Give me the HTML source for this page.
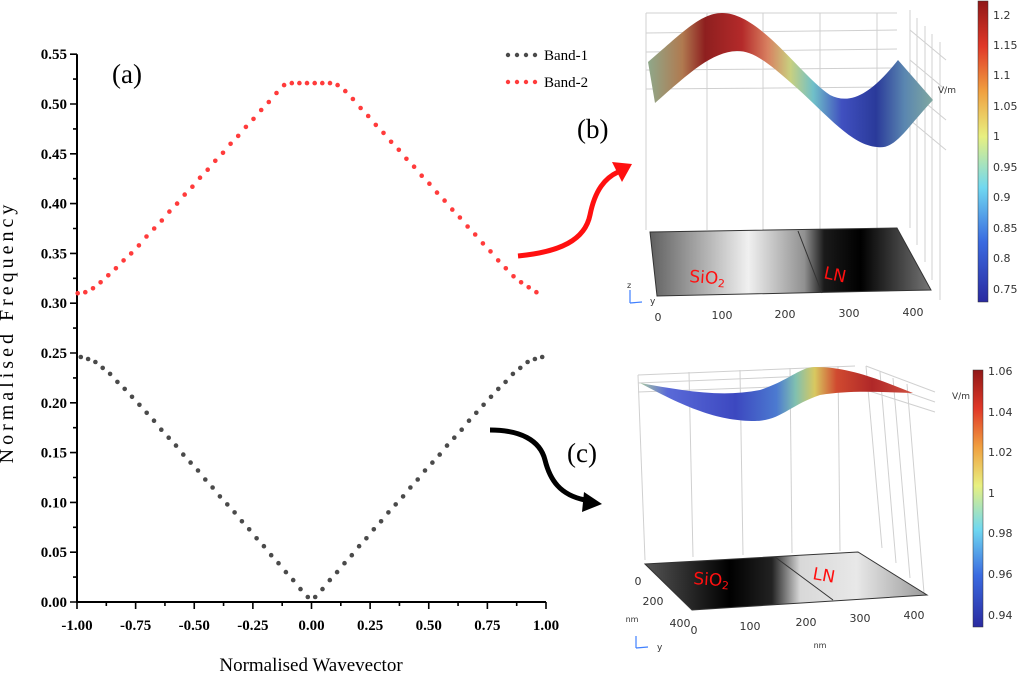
<!DOCTYPE html>
<html><head><meta charset="utf-8"><style>
html,body{margin:0;padding:0;background:#fff;}
svg{display:block;}
.tk{font-family:"Liberation Serif",serif;font-weight:bold;font-size:15px;}
</style></head><body>
<svg id="fig" width="1024" height="684" viewBox="0 0 1024 684" xmlns="http://www.w3.org/2000/svg">
<defs>
<linearGradient id="gb" x1="648" y1="0" x2="933" y2="0" gradientUnits="userSpaceOnUse">
<stop offset="0" stop-color="#8fa88a"/><stop offset="0.12" stop-color="#b07a50"/><stop offset="0.2" stop-color="#8e1f1f"/><stop offset="0.33" stop-color="#b42a2a"/><stop offset="0.42" stop-color="#d88060"/><stop offset="0.5" stop-color="#c8d080"/><stop offset="0.58" stop-color="#70c0c8"/><stop offset="0.68" stop-color="#4050c0"/><stop offset="0.8" stop-color="#2a3a9a"/><stop offset="0.9" stop-color="#5a86b0"/><stop offset="1" stop-color="#80a8a0"/>
</linearGradient>
<linearGradient id="gc" x1="640" y1="0" x2="913" y2="0" gradientUnits="userSpaceOnUse">
<stop offset="0" stop-color="#a8c8a0"/><stop offset="0.1" stop-color="#5a6ad8"/><stop offset="0.35" stop-color="#3c48c0"/><stop offset="0.5" stop-color="#4c7ad0"/><stop offset="0.57" stop-color="#80c0b0"/><stop offset="0.64" stop-color="#d8c860"/><stop offset="0.72" stop-color="#d04a30"/><stop offset="0.85" stop-color="#b02828"/><stop offset="1" stop-color="#d05040"/>
</linearGradient>
<linearGradient id="cbb" x1="0" y1="1" x2="0" y2="0">
<stop offset="0" stop-color="#2a2aa0"/><stop offset="0.2" stop-color="#3a6ae0"/><stop offset="0.38" stop-color="#70d8f0"/><stop offset="0.55" stop-color="#e8f080"/><stop offset="0.7" stop-color="#f0a040"/><stop offset="0.85" stop-color="#e03828"/><stop offset="1" stop-color="#901818"/>
</linearGradient>
<linearGradient id="flb" x1="650" y1="0" x2="931" y2="0" gradientUnits="userSpaceOnUse">
<stop offset="0" stop-color="#606060"/><stop offset="0.35" stop-color="#f0f0f0"/><stop offset="0.55" stop-color="#909090"/><stop offset="0.62" stop-color="#1a1a1a"/><stop offset="0.75" stop-color="#000"/><stop offset="1" stop-color="#777"/>
</linearGradient>
<linearGradient id="flc" x1="645" y1="0" x2="927" y2="0" gradientUnits="userSpaceOnUse">
<stop offset="0" stop-color="#555"/><stop offset="0.3" stop-color="#000"/><stop offset="0.45" stop-color="#222"/><stop offset="0.55" stop-color="#d8d8d8"/><stop offset="0.75" stop-color="#e8e8e8"/><stop offset="1" stop-color="#999"/>
</linearGradient>
</defs>

<!-- chart (a) -->
<g id="chart"></g>
<text x="13" y="332" transform="rotate(-90 13 332)" text-anchor="middle" font-family="Liberation Serif,serif" font-size="20" letter-spacing="4">Normalised Frequency</text>
<text x="311" y="671" text-anchor="middle" font-family="Liberation Serif,serif" font-size="19">Normalised Wavevector</text>
<text x="112" y="83" font-family="Liberation Serif,serif" font-size="27">(a)</text>
<g>
<g>
<circle cx="508" cy="55" r="2.2" fill="#4a4a4a"/><circle cx="517" cy="55" r="2.2" fill="#4a4a4a"/><circle cx="526" cy="55" r="2.2" fill="#4a4a4a"/><circle cx="535" cy="55" r="2.2" fill="#4a4a4a"/>
<text x="544" y="60" font-family="Liberation Serif,serif" font-size="15">Band-1</text></g>
<g>
<circle cx="508" cy="82" r="2.2" fill="#ff3b3b"/><circle cx="517" cy="82" r="2.2" fill="#ff3b3b"/><circle cx="526" cy="82" r="2.2" fill="#ff3b3b"/><circle cx="535" cy="82" r="2.2" fill="#ff3b3b"/>
<text x="544" y="87" font-family="Liberation Serif,serif" font-size="15">Band-2</text></g>
</g>

<!-- arrows -->
<g>
<path d="M518,256 C560,252 585,240 590,215 C595,190 605,178 618,172" fill="none" stroke="#ff1010" stroke-width="5"/>
<polygon points="632,164 612,162 622,182" fill="#ff1010"/>
</g>
<g>
<path d="M490,430 C520,430 540,440 545,460 C550,480 560,495 585,500" fill="none" stroke="#000" stroke-width="5"/>
<polygon points="602,504 584,492 582,512" fill="#000"/>
</g>
<text x="577" y="138" font-family="Liberation Serif,serif" font-size="27">(b)</text>
<text x="567" y="462" font-family="Liberation Serif,serif" font-size="27">(c)</text>

<!-- panel b -->
<g font-family="DejaVu Sans,sans-serif">
<g stroke="#d0d0d0" stroke-width="1" fill="none">
<path d="M646,13 L646,230 M707,13 L707,230 M763,13 L763,230 M820,13 L820,230 M877,13 L877,230"/>
<path d="M646,13 L897,13 M646,33 L897,30 M646,52 L897,49 M646,70 L897,68 M646,89 L897,87"/>
<path d="M910,10 L910,228 M917,18 L917,245 M925,26 L925,262 M932,34 L932,280 M940,42 L940,300"/>
<path d="M910,30 L946,60 M910,60 L946,90 M910,90 L946,120 M910,120 L946,150"/>
</g>
<path d="M648,62 C680,35 700,13 722,13 C760,13 800,75 830,95 C850,105 870,95 898,60 L933,100 C905,130 895,150 877,147 C850,145 825,112 790,82 C765,60 752,51 737,51 C712,52 690,72 655,103 Z" fill="url(#gb)"/>
<path d="M650,232 L897,228 L931,290 L657,296 Z" fill="url(#flb)" stroke="#333" stroke-width="1"/>
<path d="M798,231 L822,293" stroke="#333" stroke-width="1"/>
<text x="689" y="282" fill="#ff1010" font-size="17" transform="rotate(4 689 282)">SiO<tspan font-size="11" dy="3">2</tspan></text>
<text x="823" y="278" fill="#ff1010" font-size="17" transform="rotate(12 823 278)">LN</text>
<g font-size="11" fill="#333" text-anchor="middle">
<text x="658" y="321">0</text><text x="722" y="319">100</text><text x="785" y="318">200</text><text x="849" y="317">300</text><text x="913" y="316">400</text>
<text x="938" y="93" font-size="9" text-anchor="start">V/m</text>
</g>
<path d="M630,303 L630,290 M630,303 L642,302" stroke="#4080ff" stroke-width="1.2"/>
<text x="627" y="288" font-size="8" fill="#333">z</text><text x="650" y="304" font-size="9" fill="#333">y</text>
<rect x="978" y="1" width="10" height="301" fill="url(#cbb)" stroke="#333" stroke-width="0.5"/>
<g font-size="11" fill="#333">
<text x="993" y="19">1.2</text><text x="993" y="49">1.15</text><text x="993" y="79">1.1</text><text x="993" y="110">1.05</text><text x="993" y="140">1</text><text x="993" y="171">0.95</text><text x="993" y="201">0.9</text><text x="993" y="232">0.85</text><text x="993" y="262">0.8</text><text x="993" y="293">0.75</text>
</g>
</g>

<!-- panel c -->
<g font-family="DejaVu Sans,sans-serif">
<g stroke="#d0d0d0" stroke-width="1" fill="none">
<path d="M638,375 L645,560 M689,372 L693,557 M740,370 L743,555 M790,368 L792,553 M838,366 L840,551"/>
<path d="M638,375 L855,366 M638,383 L855,374 M638,392 L855,384"/>
<path d="M866,366 L882,548 M880,372 L896,563 M893,378 L910,578 M907,384 L924,593 M866,366 L935,392 M866,378 L935,402 M866,390 L935,412"/>
</g>
<path d="M640,383 C680,390 720,398 760,390 C790,380 800,367 815,367 C850,367 880,380 913,393 C880,392 850,390 820,395 C790,405 780,421 755,421 C720,421 690,410 640,383 Z" fill="url(#gc)"/>
<path d="M645,564 L858,552 L927,595 L692,610 Z" fill="url(#flc)" stroke="#333" stroke-width="1"/>
<path d="M775,557 L833,600" stroke="#333" stroke-width="1"/>
<text x="693" y="584" fill="#ff1010" font-size="17" transform="rotate(4 693 584)">SiO<tspan font-size="11" dy="3">2</tspan></text>
<text x="812" y="579" fill="#ff1010" font-size="17" transform="rotate(10 812 579)">LN</text>
<g font-size="11" fill="#333" text-anchor="middle">
<text x="694" y="634">0</text><text x="750" y="630">100</text><text x="806" y="626">200</text><text x="860" y="622">300</text><text x="914" y="619">400</text>
<text x="820" y="648" font-size="8">nm</text>
<text x="638" y="585">0</text><text x="653" y="605">200</text><text x="680" y="627">400</text>
<text x="632" y="622" font-size="8">nm</text>
<text x="952" y="399" font-size="9" text-anchor="start">V/m</text>
</g>
<path d="M636,648 L636,636 M636,648 L648,647" stroke="#4080ff" stroke-width="1.2"/>
<text x="657" y="650" font-size="9" fill="#333">y</text>
<rect x="973" y="370" width="10" height="257" fill="url(#cbb)" stroke="#333" stroke-width="0.5"/>
<g font-size="11" fill="#333">
<text x="988" y="375">1.06</text><text x="988" y="416">1.04</text><text x="988" y="456">1.02</text><text x="988" y="497">1</text><text x="988" y="537">0.98</text><text x="988" y="578">0.96</text><text x="988" y="619">0.94</text>
</g>
</g>
</svg>
<script>
var band1Left = [0.246,0.244,0.241,0.235,0.229,0.221,0.214,0.206,0.198,0.190,0.182,0.173,0.165,0.157,0.148,0.140,0.132,0.123,0.115,0.106,0.098,0.090,0.081,0.073,0.064,0.056,0.047,0.039,0.030,0.022,0.013,0.005];
var band1Values = band1Left.concat(band1Left.slice().reverse());
var band2Values = [0.310,0.311,0.315,0.321,0.328,0.335,0.343,0.350,0.358,0.367,0.375,0.383,0.392,0.400,0.409,0.417,0.426,0.434,0.443,0.451,0.460,0.468,0.477,0.485,0.494,0.502,0.511,0.519,0.521,0.521,0.521,0.521,0.521,0.521,0.519,0.513,0.505,0.496,0.488,0.479,0.471,0.462,0.454,0.445,0.437,0.428,0.420,0.411,0.403,0.394,0.386,0.377,0.369,0.360,0.352,0.343,0.335,0.327,0.321,0.316,0.311];
var band1KStart = -0.984, band1KEnd = 0.984;
var band2KStart = -0.997, band2KEnd = 0.959;
var xTickValues = [-1,-0.75,-0.5,-0.25,0,0.25,0.5,0.75,1];
var xTickLabels = ["-1.00","-0.75","-0.50","-0.25","0.00","0.25","0.50","0.75","1.00"];
var yTickValues = [0,0.05,0.1,0.15,0.2,0.25,0.3,0.35,0.4,0.45,0.5,0.55];
var yTickLabels = ["0.00","0.05","0.10","0.15","0.20","0.25","0.30","0.35","0.40","0.45","0.50","0.55"];

var NS = "http://www.w3.org/2000/svg";
function xs(k){ return 311.5 + k*234.5; }
function ys(v){ return 602 - v*996; }
var g = document.getElementById('chart');
function mk(tag, attrs){ var e=document.createElementNS(NS,tag); for(var a in attrs) e.setAttribute(a, attrs[a]); return e; }

var axes = mk('path',{d:'M77,'+ys(0.55)+' L77,602 L546,602',fill:'none',stroke:'#000','stroke-width':2});


g.appendChild(axes);
var t = '';
for (var i=0;i<xTickValues.length;i++){
  t += 'M'+xs(xTickValues[i])+',602 L'+xs(xTickValues[i])+',609 ';
  if (i<xTickValues.length-1){ var m=(xTickValues[i]+xTickValues[i+1])/2; t+='M'+xs(m)+',602 L'+xs(m)+',606 '; }
  var lb = mk('text',{x:xs(xTickValues[i]),y:630,'text-anchor':'middle','class':'tk'});
  
  
  lb.textContent = xTickLabels[i]; g.appendChild(lb);
}
for (var j=0;j<yTickValues.length;j++){
  t += 'M70,'+ys(yTickValues[j])+' L77,'+ys(yTickValues[j])+' ';
  if (j<yTickValues.length-1){ var mm=(yTickValues[j]+yTickValues[j+1])/2; t+='M73,'+ys(mm)+' L77,'+ys(mm)+' '; }
  var yl = mk('text',{x:67,y:ys(yTickValues[j])+5,'text-anchor':'end','class':'tk'});
  
  
  yl.textContent = yTickLabels[j]; g.appendChild(yl);
}
var ticks = mk('path',{d:t,stroke:'#000','stroke-width':1.6,fill:'none'});


g.appendChild(ticks);

function series(vals, k0, k1, color, name){
  var sg = mk('g',{fill:color});
  
  
  var n = vals.length;
  for (var i=0;i<n;i++){
    var k = k0 + (k1-k0)*i/(n-1);
    var c = mk('circle',{cx:xs(k).toFixed(1),cy:ys(vals[i]).toFixed(1),r:2.3});
    
    
    sg.appendChild(c);
  }
  g.appendChild(sg);
}
series(band1Values, band1KStart, band1KEnd, '#4a4a4a', 'band-1-series');
series(band2Values, band2KStart, band2KEnd, '#ff3b3b', 'band-2-series');
</script>
</body></html>
